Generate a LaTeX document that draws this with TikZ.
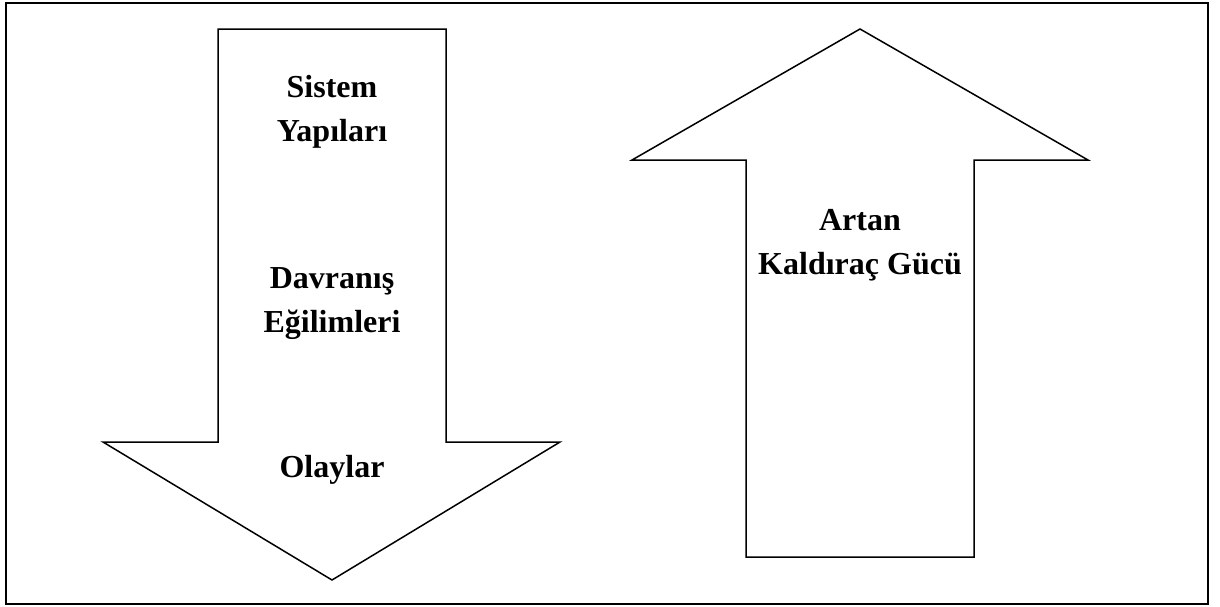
\documentclass[tikz,border=0pt]{standalone}
\usepackage{fontspec}
\setmainfont{Liberation Serif}
\usetikzlibrary{positioning}

\tikzset{
    blockarrow/.style={draw=black, line width=1.5pt, line join=miter},
    lbl/.style={font=\fontsize{32}{44}\selectfont\bfseries, align=center, anchor=base}
}

\begin{document}
\begin{tikzpicture}[x=1pt, y=-1pt]
        \useasboundingbox (0,0) rectangle (1220,606);
        \draw[line width=2pt] (6,3) rectangle (1208,604);

        % downward arrow
        \draw[blockarrow] (218,29) -- (446,29) -- (446,442) -- (560,442) -- (332,580)
            -- (103,442) -- (218,442) -- cycle;
        \node[lbl] (sistem) at (332,141) {Sistem\\Yapıları};
        \node[lbl] (davranis) at (332,332) {Davranış\\Eğilimleri};
        \node[lbl] (olaylar) at (332,477) {Olaylar};

        % upward arrow
        \draw[blockarrow] (746,557) -- (746,160) -- (632,160) -- (860,29) -- (1088,160)
            -- (974,160) -- (974,557) -- cycle;
        \node[lbl] (artan) at (860,274) {Artan\\Kaldıraç Gücü};

    \end{tikzpicture}
\end{document}
